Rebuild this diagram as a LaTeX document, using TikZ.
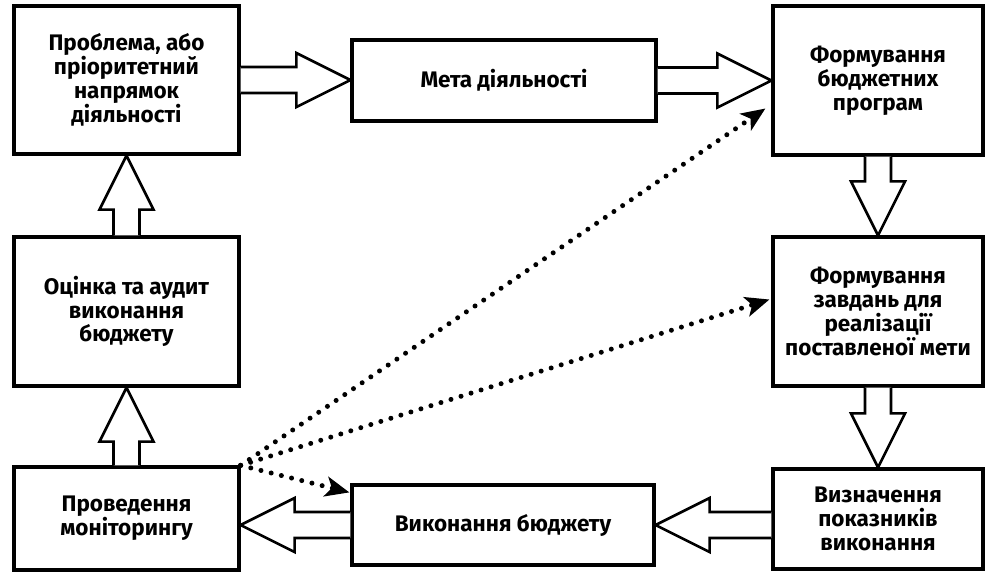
\documentclass[tikz,border=0pt]{standalone}
\usepackage{fontspec}
\setmainfont{Fira Sans}
\usetikzlibrary{arrows.meta, calc}
\tikzset{
  box/.style={rectangle, draw=black, fill=white, line width=3.2pt,
    align=center, inner sep=0pt,
    font=\bfseries\fontsize{22.5}{23.8}\selectfont},
  bigarrow/.style={draw=black, fill=white, line width=2.6pt, line join=miter},
  dotarrow/.style={line width=5pt, dash pattern=on 0pt off 10.5pt, line cap=round,
    -{Stealth[length=24pt, width=20pt, inset=6pt]}}
}
% hollow block arrow from #1 to #2
\newcommand{\hollowarrow}[2]{%
  \path let \p1=($(#2)-(#1)$) in
    \pgfextra{\pgfmathsetmacro{\arlen}{veclen(\x1,\y1)}%
      \pgfmathsetmacro{\arang}{atan2(\y1,\x1)}%
      \global\let\arlen\arlen\global\let\arang\arang};
  \draw[bigarrow, shift={(#1)}, rotate=\arang]
    (0pt,-13pt) -- (\arlen pt-54pt,-13pt) -- (\arlen pt-54pt,-27pt) -- (\arlen pt,0pt)
    -- (\arlen pt-54pt,27pt) -- (\arlen pt-54pt,13pt) -- (0pt,13pt);
}

\begin{document}
\begin{tikzpicture}[x=1pt, y=-1pt]
  \useasboundingbox (0,0) rectangle (998,579);

  % boxes
  \node[box, minimum width=225pt, minimum height=148pt] (problem) at (126.5,80)
    {Проблема, або\\ пріоритетний\\ напрямок\\ діяльності};
  \node[box, minimum width=304pt, minimum height=81pt] (goal) at (504,80.5)
    {Мета діяльності};
  \node[box, minimum width=210pt, minimum height=149pt] (programs) at (878,80.5)
    {Формування\\ бюджетних\\ програм};
  \node[box, minimum width=210pt, minimum height=149pt] (tasks) at (878,311.5)
    {Формування\\ завдань для\\ реалізації\\ поставленої мети};
  \node[box, minimum width=210pt, minimum height=100pt] (indicators) at (878,519)
    {Визначення\\ показників\\ виконання};
  \node[box, minimum width=302pt, minimum height=80pt] (execution) at (503,525)
    {Виконання бюджету};
  \node[box, minimum width=225pt, minimum height=103pt] (monitoring) at (126.5,518.5)
    {Проведення\\ моніторингу};
  \node[box, minimum width=225pt, minimum height=149pt] (audit) at (126.5,311.5)
    {Оцінка та аудит\\ виконання\\ бюджету};

  % block arrows
  \hollowarrow{problem.east}{problem.east -| goal.west}
  \hollowarrow{goal.east}{goal.east -| programs.west}
  \hollowarrow{programs.south}{programs.south |- tasks.north}
  \hollowarrow{tasks.south}{tasks.south |- indicators.north}
  \hollowarrow{execution.east -| indicators.west}{execution.east}
  \hollowarrow{execution.west}{execution.west -| monitoring.east}
  \hollowarrow{monitoring.north}{monitoring.north |- audit.south}
  \hollowarrow{audit.north}{audit.north |- problem.south}

  % dotted links
  \draw[dotarrow] (monitoring.north east) -- ($(programs.west)+(-6,28)$);
  \draw[dotarrow] (monitoring.north east) -- ($(tasks.west)+(-2,-12)$);
  \draw[dotarrow] (monitoring.north east) -- ($(execution.north west)+(-1,9)$);
\end{tikzpicture}
\end{document}
